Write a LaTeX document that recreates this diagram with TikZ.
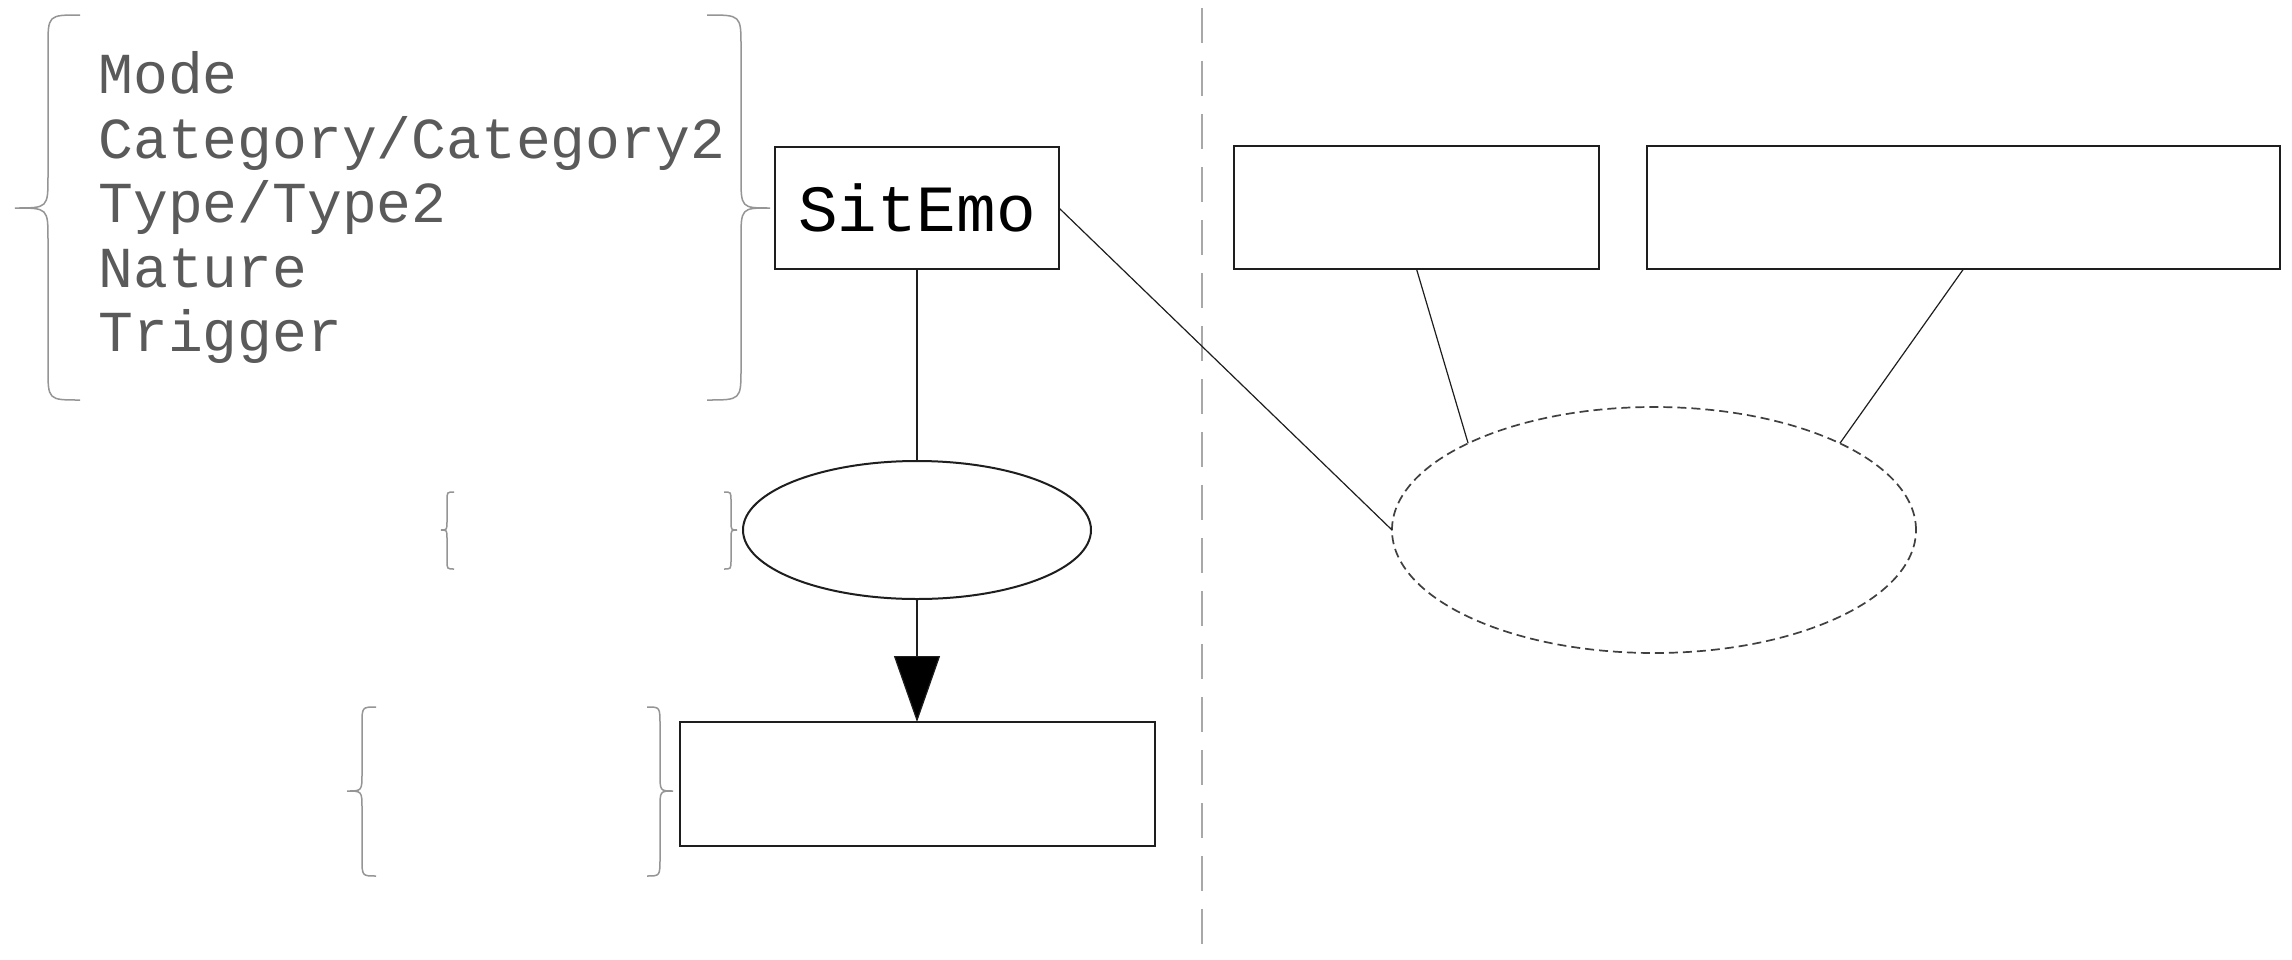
\documentclass[tikz,border=0pt]{standalone}
\usepackage{fontspec}
\setmonofont{Liberation Mono}
\usetikzlibrary{shapes.geometric,arrows.meta}
\definecolor{txtgray}{HTML}{5A5A5A}
\definecolor{brgray}{HTML}{959595}
\definecolor{dashgray}{HTML}{A8A8A8}
\definecolor{inkline}{HTML}{1E1E1E}
\tikzset{
  bracestyle/.style={draw=brgray, line width=0.75pt},
  textline/.style={font=\ttfamily\fontsize{29pt}{32pt}\selectfont, text=txtgray, inner sep=0pt, anchor=base west},
  boxnode/.style={rectangle, draw=inkline, line width=1pt, inner sep=0pt, outer sep=0pt},
  ellnode/.style={ellipse, draw=inkline, line width=1pt, inner sep=0pt, outer sep=0pt},
  dashell/.style={ellnode, draw=black!75, line width=0.85pt, dash pattern=on 4.5pt off 2.5pt},
  conn/.style={draw=inkline, line width=0.6pt},
  sepline/.style={draw=dashgray, line width=1pt, dash pattern=on 17.5pt off 9pt, dash phase=22.5pt},
}
% xe xs xt ytop ymid ybot r
\newcommand\curlybrace[7]{%
  \draw[bracestyle] (#1,#4) .. controls (#2,#4) .. (#2,{#4+#7}) -- (#2,{#5-#7})
    .. controls (#2,#5) .. (#3,#5) .. controls (#2,#5) .. (#2,{#5+#7})
    -- (#2,{#6-#7}) .. controls (#2,#6) .. (#1,#6);}
\begin{document}
\begin{tikzpicture}[x=0.5pt, y=-0.5pt]
\useasboundingbox[fill=white] (0,0) rectangle (2292,959);

% separator
\coordinate (vt) at (1202,0);
\coordinate (vb) at (1202,959);
\draw[sepline] (vt) -- (vb);

% braces
\curlybrace{80}{48}{15}{15}{208}{400}{32}
\curlybrace{707}{741}{770}{15}{208}{400}{32}
\curlybrace{454}{447}{441}{492}{530}{569}{9}
\curlybrace{724}{731}{737}{492}{530}{569}{9}
\curlybrace{376}{362}{347}{707}{791}{876}{18}
\curlybrace{647}{660}{673}{707}{791}{876}{18}

% attribute list
\node[textline] (l1) at (98,93) {Mode};
\node[textline] (l2) at (98,158) {Category/Category2};
\node[textline] (l3) at (98,222) {Type/Type2};
\node[textline] (l4) at (98,287) {Nature};
\node[textline] (l5) at (98,351) {Trigger};

% nodes
\node[boxnode, minimum width=142pt, minimum height=61pt,
      font=\ttfamily\fontsize{33pt}{36pt}\selectfont] (sit) at (917,208) {SitEmo};
\node[ellnode, minimum width=174pt, minimum height=69pt] (e1) at (917,530) {};
\node[boxnode, minimum width=237.5pt, minimum height=62pt] (b3) at (917,784) {};
\node[boxnode, minimum width=182.5pt, minimum height=61.5pt] (bA) at (1416.5,207.5) {};
\node[boxnode, minimum width=316.5pt, minimum height=61.5pt] (bB) at (1963.5,207.5) {};
\node[dashell, minimum width=262pt, minimum height=123pt] (e2) at (1654,530) {};

% connectors
\draw[conn] (sit.south) -- (e1.north);
\draw[conn, -{Triangle[length=33pt,width=23pt,fill=black]}] (e1.south) -- (b3.north);
\draw[conn] (sit.east) -- (e2.west);
\draw[conn] (bA.south) -- (e2.155);
\draw[conn] (bB.south) -- (e2.25);
\end{tikzpicture}
\end{document}
